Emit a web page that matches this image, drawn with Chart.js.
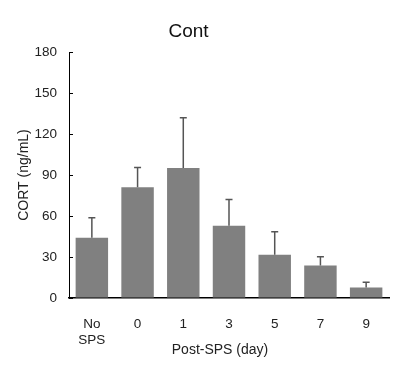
<!DOCTYPE html>
<html>
<head>
<meta charset="utf-8">
<script src="https://cdn.jsdelivr.net/npm/chart.js@4"></script>
<style>
  html, body { margin: 0; padding: 0; background: #fff; }
  #wrap { width: 397px; height: 370px; }
</style>
</head>
<body>
<div id="wrap"><canvas id="cortChart"></canvas></div>
<script>
// CORT levels, Cont group
const categories = [["No", "SPS"], "0", "1", "3", "5", "7", "9"];
const cortMean = [44.1, 81.1, 95.1, 52.9, 31.6, 23.8, 7.6];
const cortErr = [14.7, 14.4, 36.7, 19.1, 16.9, 6.3, 3.9];
const yTicks = [0, 30, 60, 90, 120, 150, 180];

const FONT = "'Liberation Sans', Arial, sans-serif";

// upper error bars
const errorBars = {
  id: "errorBars",
  afterDatasetsDraw(chart) {
    const ctx = chart.ctx;
    const y = chart.scales.y;
    const meta = chart.getDatasetMeta(0);
    ctx.save();
    ctx.strokeStyle = "#555555";
    ctx.lineWidth = 1.5;
    meta.data.forEach((bar, i) => {
      const yBase = y.getPixelForValue(cortMean[i]);
      const yTop = y.getPixelForValue(cortMean[i] + cortErr[i]);
      ctx.beginPath();
      ctx.moveTo(bar.x, yBase);
      ctx.lineTo(bar.x, yTop);
      ctx.moveTo(bar.x - 3.5, yTop);
      ctx.lineTo(bar.x + 3.5, yTop);
      ctx.stroke();
    });
    ctx.restore();
  },
};

// inward tick marks on the y axis, chart title and x title
const extras = {
  id: "extras",
  afterDraw(chart) {
    const ctx = chart.ctx;
    const y = chart.scales.y;
    const left = chart.chartArea.left;
    ctx.save();
    ctx.strokeStyle = "#000";
    ctx.lineWidth = 1;
    yTicks.forEach((v) => {
      const py = Math.round(y.getPixelForValue(v)) + 0.5;
      ctx.beginPath();
      ctx.moveTo(left, py);
      ctx.lineTo(left + 4, py);
      ctx.stroke();
    });
    ctx.fillStyle = "#111";
    ctx.textAlign = "center";
    ctx.textBaseline = "middle";
    ctx.font = "19px " + FONT;
    ctx.fillText("Cont", 188.5, 32);
    ctx.fillStyle = "#222";
    ctx.font = "14px " + FONT;
    ctx.fillText("Post-SPS (day)", 220, 350);
    ctx.restore();
  },
};

new Chart(document.getElementById("cortChart"), {
  type: "bar",
  data: {
    labels: categories,
    datasets: [
      {
        data: cortMean,
        backgroundColor: "#808080",
        borderWidth: 0,
        categoryPercentage: 1,
        barPercentage: 0.71,
      },
    ],
  },
  options: {
    responsive: true,
    maintainAspectRatio: false,
    animation: false,
    layout: { padding: { top: 52, right: 8, left: 0, bottom: 0 } },
    plugins: {
      legend: { display: false },
      tooltip: { enabled: false },
    },
    scales: {
      x: {
        grid: { display: false },
        border: { display: true, color: "#000", width: 1.5 },
        ticks: {
          color: "#222",
          font: { family: FONT, size: 13.5, lineHeight: 1.22 },
          padding: 10,
          maxRotation: 0,
        },
        afterFit(scale) {
          scale.height = 72;
        },
      },
      y: {
        min: 0,
        max: 180,
        afterBuildTicks(scale) {
          scale.ticks = yTicks.map((v) => ({ value: v }));
        },
        grid: { drawOnChartArea: false, drawTicks: false },
        border: { display: true, color: "#000", width: 1 },
        ticks: {
          color: "#222",
          font: { family: FONT, size: 13.5 },
          padding: 12,
        },
        title: {
          display: true,
          text: "CORT (ng/mL)",
          color: "#222",
          font: { family: FONT, size: 14 },
          padding: { top: 16, bottom: 16 },
        },
        afterFit(scale) {
          scale.width = 69;
        },
      },
    },
  },
  plugins: [errorBars, extras],
});
</script>
</body>
</html>
